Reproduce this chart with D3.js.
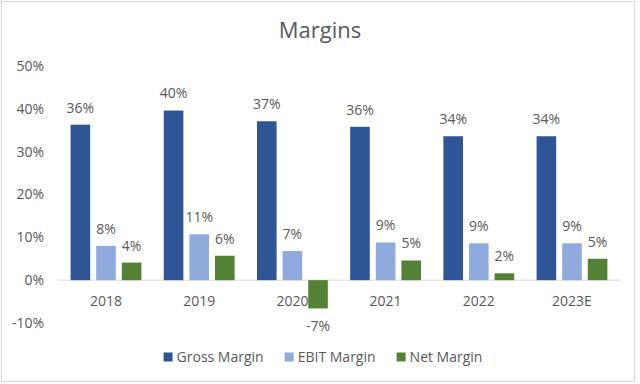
<!DOCTYPE html>
<html>
<head>
<meta charset="utf-8">
<script src="https://cdn.jsdelivr.net/npm/d3@7"></script>
<style>
  body { margin: 0; background: #fff; }
  text { font-family: "Open Sans", sans-serif; fill: #595959; }
</style>
</head>
<body>
<svg></svg>
<script>
const years = ['2018', '2019', '2020', '2021', '2022', '2023E'];
const seriesNames = ['Gross Margin', 'EBIT Margin', 'Net Margin'];
const grossMargin = [0.363, 0.396, 0.371, 0.358, 0.336, 0.336];
const ebitMargin = [0.080, 0.107, 0.068, 0.088, 0.086, 0.086];
const netMargin = [0.041, 0.057, -0.066, 0.046, 0.016, 0.050];
const yTicks = [-0.1, 0, 0.1, 0.2, 0.3, 0.4, 0.5];
const colors = ['#2f5597', '#8faadc', '#548235'];

const [svgWidth, svgHeight] = [640, 384];
const svg = d3.select('svg')
  .attr('width', svgWidth)
  .attr('height', svgHeight);

const pct = d3.formatLocale({decimal: '.', thousands: ',', grouping: [3], currency: ['$', ''], minus: '-'})
  .format('.0%');

svg.append('rect')
  .attr('x', 1.5).attr('y', 1.5)
  .attr('width', 633).attr('height', 380)
  .attr('fill', '#fff')
  .attr('stroke', '#d9d9d9');

svg.append('text')
  .attr('x', 320).attr('y', 38)
  .attr('text-anchor', 'middle')
  .attr('font-size', 22)
  .text('Margins');

const values = [grossMargin, ebitMargin, netMargin];
const rows = years.map((year, i) => ({
  year,
  bars: seriesNames.map((name, j) => ({name, value: values[j][i], color: colors[j]}))
}));

const y = d3.scaleLinear()
  .domain([-0.1, 0.5])
  .range([323, 66]);

const x0 = d3.scaleBand()
  .domain(years)
  .range([59.4, 618.6])
  .paddingInner(0.24)
  .paddingOuter(0.12);

const x1 = d3.scaleBand()
  .domain(seriesNames)
  .range([0, x0.bandwidth()])
  .paddingInner(0.235);

// y tick labels
svg.append('g')
  .selectAll('text')
  .data(yTicks)
  .enter()
  .append('text')
  .attr('x', 44)
  .attr('y', d => y(d))
  .attr('dy', '0.35em')
  .attr('text-anchor', 'end')
  .attr('font-size', 14)
  .text(d => pct(d));

// zero line
svg.append('line')
  .attr('x1', 57).attr('x2', 622)
  .attr('y1', y(0)).attr('y2', y(0))
  .attr('stroke', '#d9d9d9');

// category labels
svg.append('g')
  .selectAll('text')
  .data(years)
  .enter()
  .append('text')
  .attr('x', d => x0(d) + x0.bandwidth() / 2)
  .attr('y', y(0) + 21)
  .attr('dy', '0.35em')
  .attr('text-anchor', 'middle')
  .attr('font-size', 14)
  .text(d => d);

const groups = svg.append('g')
  .selectAll('g')
  .data(rows)
  .enter()
  .append('g')
  .attr('transform', d => `translate(${x0(d.year)}, 0)`);

groups.selectAll('rect')
  .data(d => d.bars)
  .enter()
  .append('rect')
  .attr('x', d => x1(d.name))
  .attr('y', d => y(Math.max(0, d.value)))
  .attr('width', x1.bandwidth())
  .attr('height', d => Math.abs(y(d.value) - y(0)))
  .attr('fill', d => d.color);

groups.selectAll('text')
  .data(d => d.bars)
  .enter()
  .append('text')
  .attr('x', d => x1(d.name) + x1.bandwidth() / 2)
  .attr('y', d => d.value >= 0 ? y(d.value) - 17 : y(d.value) + 18)
  .attr('dy', '0.35em')
  .attr('text-anchor', 'middle')
  .attr('font-size', 14)
  .text(d => pct(d.value));

// legend
const legend = svg.append('g');
const items = legend.selectAll('g')
  .data(seriesNames)
  .enter()
  .append('g');
items.append('rect')
  .attr('width', 9).attr('height', 9)
  .attr('y', -4.5)
  .attr('fill', (d, i) => colors[i]);
items.append('text')
  .attr('x', 13)
  .attr('dy', '0.35em')
  .attr('font-size', 14)
  .text(d => d);

let offset = 0;
items.each((d, i, nodes) => {
  const w = d3.select(nodes[i]).select('text').node().getComputedTextLength() + 13;
  d3.select(nodes[i]).attr('transform', `translate(${offset}, 0)`);
  offset += w + 21;
});
const legendWidth = offset - 21;
legend.attr('transform', `translate(${323 - legendWidth / 2}, 357)`);
</script>
</body>
</html>
